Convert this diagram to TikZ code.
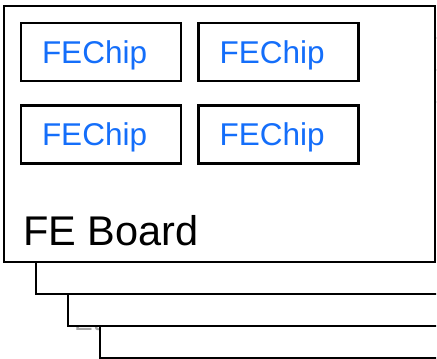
\documentclass[tikz,border=0pt]{standalone}
\usepackage{fontspec}
\setmainfont{Liberation Sans}
\usetikzlibrary{positioning}

\definecolor{chipblue}{RGB}{20,110,250}

\begin{document}
\begin{tikzpicture}[x=1pt,y=-1pt,
	board/.style={draw,fill=white,line width=2.2pt},
	chip/.style={draw,line width=2.7pt,minimum height=58pt,text width=118pt,
		text height=22pt,text depth=0pt,inner xsep=21pt,align=left,
		text=chipblue,font=\fontsize{31.5}{32}\selectfont}]

	\useasboundingbox (0,0) rectangle (437,359);
	\clip (0,0) rectangle (436.1,359);

	% label of a board further back, mostly covered
	\node[anchor=base west,inner sep=0pt,text=gray!70,
		font=\fontsize{28}{28}\selectfont] (backlabel) at (74,330) {Et};

	% stack of boards, back to front
	\foreach \k in {3,2,1,0}
		\draw[board] (4+32*\k,6+32*\k) rectangle (435+32*\k,262+32*\k);

	% chips on the front board
	\node[chip] (chipA) at (101,52) {FEChip};
	\node[chip,right=15pt of chipA] (chipB) {FEChip};
	\node[chip,below=22pt of chipA] (chipC) {FEChip};
	\node[chip,right=15pt of chipC] (chipD) {FEChip};

	\node[anchor=base west,inner sep=0pt,
		font=\fontsize{41.5}{42}\selectfont] (boardname) at (23,245) {FE Board};

\end{tikzpicture}
\end{document}
